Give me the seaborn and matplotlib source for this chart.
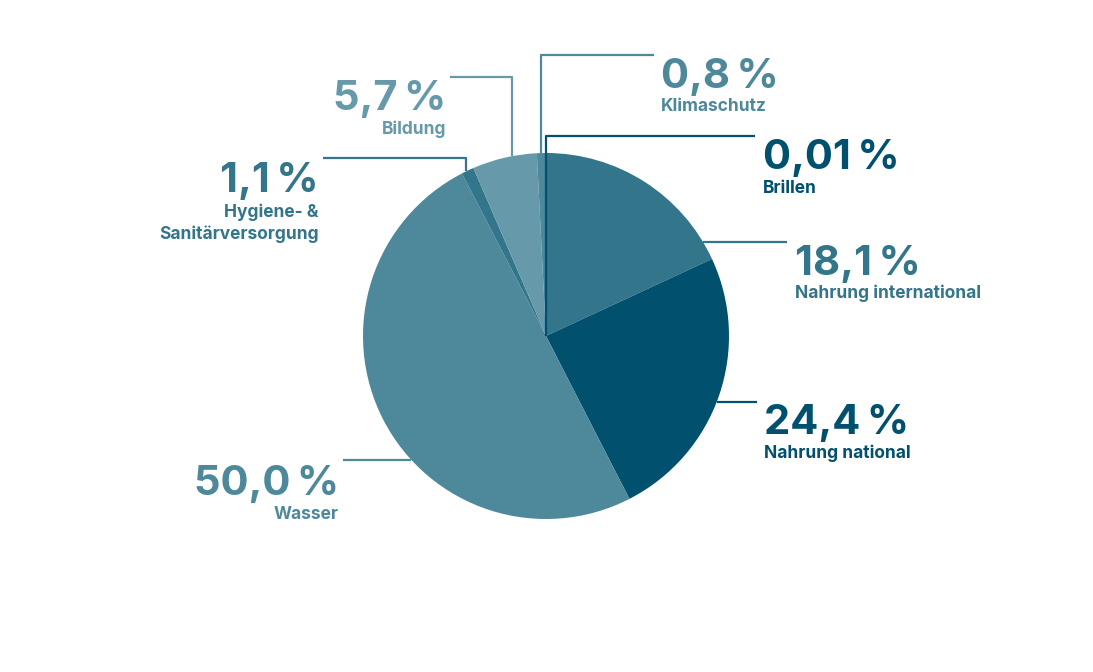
import matplotlib
matplotlib.use("Agg")
import matplotlib.pyplot as plt
import seaborn as sns

# Anteile im Uhrzeigersinn ab 12 Uhr
kategorien = ["Brillen", "Nahrung international", "Nahrung national", "Wasser",
              "Hygiene- &\nSanitärversorgung", "Bildung", "Klimaschutz"]
werte = [0.01, 18.1, 24.4, 50.0, 1.1, 5.7, 0.8]
prozent_text = ["0,01\u2009%", "18,1\u2009%", "24,4\u2009%", "50,0\u2009%",
                "1,1\u2009%", "5,7\u2009%", "0,8\u2009%"]
farben = ["#00506e", "#33758a", "#00506e", "#4e889b", "#33758a", "#6699aa", "#4e889b"]

sns.set_theme(style="white")
plt.rcParams["font.family"] = ["Inter", "DejaVu Sans"]

W, H = 1093, 672
fig = plt.figure(figsize=(W / 100, H / 100), dpi=100)
ax = fig.add_axes([0, 0, 1, 1])

cx, cy, r = 546, 336, 183


def Y(y):
    # Pixel von oben -> Datenkoordinate
    return H - y


ax.pie(werte, colors=farben, startangle=90, counterclock=False,
       center=(cx, Y(cy)), radius=r, wedgeprops=dict(linewidth=0))
ax.set_xlim(0, W)
ax.set_ylim(0, H)
ax.set_aspect("equal")
ax.axis("off")


def kreis_y(x):
    return cy - (r ** 2 - (x - cx) ** 2) ** 0.5


def kreis_x(y, seite):
    return cx + seite * (r ** 2 - (y - cy) ** 2) ** 0.5


# Beschriftungs-Layout: (Textposition x, Grundlinie Prozent, Grundlinie Name, Ausrichtung, Leitlinie)
layout = {
    "Brillen": (763, 169, 193, "left", [(755, 136), (546, 136), (546, cy)]),
    "Nahrung international": (795, 275, 298, "left", [(787, 242), (kreis_x(242, 1), 242)]),
    "Nahrung national": (764, 434, 458, "left", [(757, 402), (kreis_x(402, 1), 402)]),
    "Wasser": (339, 495, 519, "right", [(343, 460), (kreis_x(460, -1), 460)]),
    "Hygiene- &\nSanitärversorgung": (319, 192, 217, "right",
                                      [(323, 158), (466, 158), (466, kreis_y(466))]),
    "Bildung": (446, 110, 134, "right", [(450, 77), (512, 77), (512, kreis_y(512))]),
    "Klimaschutz": (661, 88, 111, "left", [(654, 55), (541, 55), (541, kreis_y(541))]),
}

for name, txt, farbe in zip(kategorien, prozent_text, farben):
    x, yb, yn, ha, linie = layout[name]
    xs = [p[0] for p in linie]
    ys = [Y(p[1]) for p in linie]
    ax.plot(xs, ys, color=farbe, lw=1.6, solid_capstyle="butt")
    ax.text(x, Y(yb), txt, color=farbe, fontsize=30, fontweight="bold",
            ha=ha, va="baseline")
    zeilen = name.split("\n")
    for i, z in enumerate(zeilen):
        ax.text(x, Y(yn + i * 22), z, color=farbe, fontsize=12.5, fontweight="bold",
                ha=ha, va="baseline")

fig.savefig("out.png", dpi=100, facecolor="white")
